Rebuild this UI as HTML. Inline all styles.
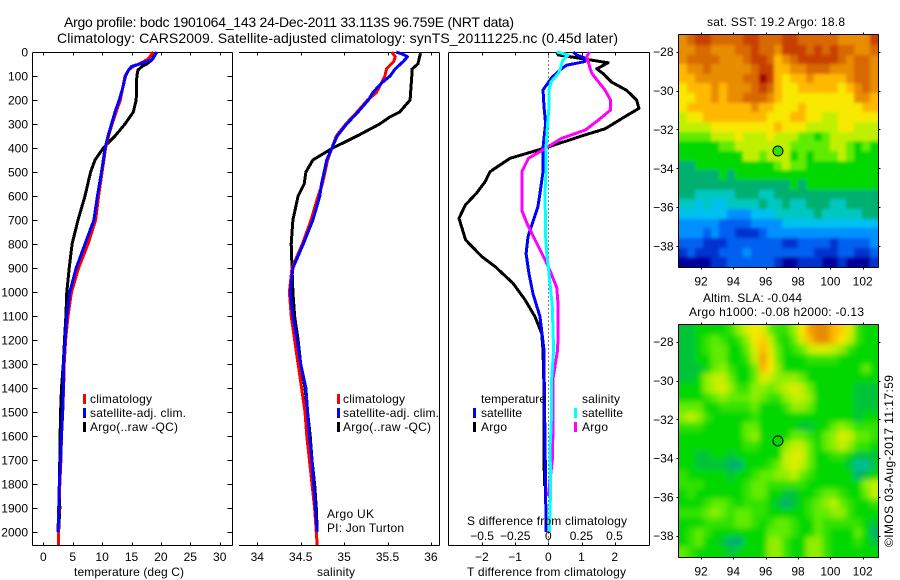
<!DOCTYPE html>
<html lang="en">
<head>
<meta charset="utf-8">
<title>Argo profile chart</title>
<style>
html,body{margin:0;padding:0;background:#fff;}
svg{display:block;}
text{font-family:"Liberation Sans",sans-serif;font-size:12px;fill:#000;}
</style>
</head>
<body>
<svg id="chart" xmlns="http://www.w3.org/2000/svg" width="900" height="580" viewBox="0 0 900 580">
<defs>
<filter id="sst-smooth" x="-10%" y="-10%" width="120%" height="120%"><feGaussianBlur stdDeviation="1.6"/></filter>
<filter id="sla-smooth" x="-10%" y="-10%" width="120%" height="120%"><feGaussianBlur stdDeviation="2.8"/></filter>
<clipPath id="sst-clip"><rect x="679" y="35" width="199" height="232"/></clipPath>
<clipPath id="sla-clip"><rect x="679" y="325" width="199" height="232"/></clipPath>
</defs>
<rect x="0" y="0" width="900" height="580" fill="#fff"/>
<text x="64" y="27" textLength="450" style="font-size:14px">Argo profile: bodc 1901064_143 24-Dec-2011 33.113S 96.759E (NRT data)</text>
<text x="57" y="43" textLength="561" style="font-size:14px">Climatology: CARS2009. Satellite-adjusted climatology: synTS_20111225.nc (0.45d later)</text>
<g id="maps"></g>
<g id="panels"></g>
<text x="74" y="576" textLength="110">temperature (deg C)</text>
<text x="317" y="576" textLength="38">salinity</text>
<text x="467" y="576" textLength="159">T difference from climatology</text>
<text x="467" y="525" textLength="160">S difference from climatology</text>
<text x="90" y="403" textLength="62">climatology</text>
<text x="90" y="417" textLength="96">satellite-adj. clim.</text>
<text x="90" y="431" textLength="88">Argo(..raw -QC)</text>
<text x="343" y="403" textLength="62">climatology</text>
<text x="343" y="417" textLength="96">satellite-adj. clim.</text>
<text x="343" y="431" textLength="88">Argo(..raw -QC)</text>
<text x="327" y="518" textLength="47">Argo UK</text>
<text x="327" y="532" textLength="77">PI: Jon Turton</text>
<text x="481" y="403" textLength="65">temperature</text>
<text x="481" y="417" textLength="41">satellite</text>
<text x="481" y="431" textLength="26">Argo</text>
<text x="582" y="403" textLength="38">salinity</text>
<text x="582" y="417" textLength="41">satellite</text>
<text x="582" y="431" textLength="26">Argo</text>
<text x="707" y="26" textLength="138">sat. SST: 19.2  Argo: 18.8</text>
<text x="703" y="302" textLength="99">Altim. SLA: -0.044</text>
<text x="689" y="316" textLength="175">Argo h1000: -0.08 h2000: -0.13</text>
<text transform="translate(893,547) rotate(-90)" textLength="172">©IMOS 03-Aug-2017 11:17:59</text>
</svg>
<script>
// ---------- profile data (depth in m) ----------
const tempDepth = [0,30,50,60,75,100,150,200,250,300,350,400,450,500,600,700,800,900,1000,1100,1200,1300,1400,1500,1600,1700,1800,1900,2000];
const argoTemp = [18.8,18.6,17.6,16.8,16.1,15.9,15.85,15.8,15.3,13.9,12.2,10.2,8.8,8.05,7.1,5.9,4.9,4.4,4.0,3.85,3.6,3.4,3.1,2.95,2.85,2.8,2.72,2.8,2.6];
const satTemp = [19.3,18.6,16.4,15,14.5,14,13.5,12.9,12.2,11.6,11.0,10.5,10.2,9.9,9.2,8.6,7.1,5.6,4.5,4.0,3.7,3.45,3.4,3.3,3.07,2.95,2.72,2.62,2.5];
const climTempDepth = [0,30,50,60,75,100,150,200,250,300,350,400,450,500,600,700,800,900,1000,1100,1200,1300,1400,1500,1600,1700,1800,1900,2000,2054];
const climTemp = [18.7,17.8,16.3,15.3,14.5,13.9,13.5,13.1,12.4,11.7,11.1,10.6,10.3,10.0,9.4,8.9,7.6,6,4.8,4.2,3.8,3.55,3.45,3.3,3.1,3,2.8,2.65,2.55,2.55];

const argoSalDepth = [5,50,72,100,200,250,270,300,350,400,450,500,550,600,700,800,900,1000,1100,1200,1300,1400,1500,1600,1700,1800,1900,2000];
const argoSal = [35.88,35.85,35.78,35.78,35.76,35.64,35.53,35.41,35.15,34.87,34.64,34.56,34.54,34.47,34.41,34.39,34.4,34.41,34.43,34.47,34.5,34.55,34.58,34.61,34.63,34.66,34.68,34.69];
const satSalDepth = [0,10,20,40,70,100,130,170,200,250,300,350,400,450,500,550,600,700,800,900,1000,1100,1200,1300,1400,1500,1600,1700,1800,1900,2000];
const satSal = [35.6,35.68,35.73,35.68,35.59,35.53,35.43,35.33,35.28,35.16,35.03,34.92,34.86,34.8,34.77,34.74,34.72,34.64,34.53,34.41,34.38,34.41,34.46,34.5,34.56,34.58,34.6,34.63,34.65,34.67,34.69];
const climSalDepth = [0,10,20,40,70,100,130,170,200,250,300,350,400,450,500,550,600,700,800,900,1000,1100,1200,1300,1400,1500,1600,1700,1800,1900,2000,2054];
const climSal = [35.55,35.57,35.59,35.57,35.49,35.47,35.43,35.37,35.27,35.15,35.02,34.91,34.86,34.81,34.78,34.75,34.7,34.62,34.52,34.4,34.37,34.39,34.43,34.47,34.51,34.55,34.57,34.6,34.63,34.66,34.68,34.69];

const argoTDiffDepth = [0,12,25,45,70,90,125,160,200,235,270,320,350,400,443,499,540,588,638,693,783,853,894,964,1033,1103,1172,1242,1400,1808];
const argoTDiff = [0.25,0.3,0.9,1.8,1.46,1.65,1.9,2.36,2.66,2.73,2.3,1.71,1.0,-0.1,-1.15,-1.76,-1.9,-2.16,-2.5,-2.69,-2.49,-2.0,-1.6,-1.06,-0.7,-0.4,-0.2,-0.16,-0.13,-0.12];
const satTDiffDepth = [0,12,25,40,55,75,108,158,228,297,400,499,588,643,693,770,840,924,1007,1103,1242,1400,1808,2000];
const satTDiff = [0.75,0.85,1.1,1.1,0.55,0.35,0.1,-0.16,-0.13,-0.08,-0.16,-0.16,-0.25,-0.31,-0.43,-0.61,-0.67,-0.58,-0.46,-0.25,-0.13,-0.12,-0.08,-0.07];
const satSDiffDepth = [0,12,33,71,90,125,158,228,297,400,499,588,770,840,894,964,1061,1242,1358,1561,1650,1808,2000];
const satSDiff = [0.064,0.15,0.11,0.09,0.075,0.02,0.005,0.005,-0.005,-0.017,-0.017,-0.025,-0.02,-0.012,0,0.013,0.03,0.04,0.026,0.022,0.013,0.018,0.008];
const argoSDiffDepth = [0,20,68,90,125,160,200,242,283,325,360,400,443,499,588,660,715,783,865,920,983,1061,1157,1242,1358,1550,1700,1850];
const argoSDiff = [0.31,0.29,0.316,0.33,0.38,0.43,0.47,0.47,0.38,0.28,0.1,-0.017,-0.15,-0.2,-0.2,-0.2,-0.16,-0.1,-0.025,0.02,0.064,0.075,0.075,0.07,0.036,0.036,0.03,0.0];

// ---------- tick labels ----------
const depthTicks = [0,100,200,300,400,500,600,700,800,900,1000,1100,1200,1300,1400,1500,1600,1700,1800,1900,2000];
const tempTicks = [0,5,10,15,20,25,30];
const salTicks = [34,34.5,35,35.5,36];
const tDiffTicks = [-2,-1,0,1,2];
const sDiffTicks = [-0.5,-0.25,0,0.25,0.5];
const lonTicks = [92,94,96,98,100,102];
const latTicks = [-28,-30,-32,-34,-36,-38];

// ---------- map data: colour-scale levels, north to south, west to east ----------
const sstLevels = [
[12,13,14,14,13,13,13,13,14,14,13,13,13,14,14,13,13,13,13,13,12,12,12,12,14],
[12,12,13,13,12,12,12,13,13,14,13,13,12,14,14,14,13,14,13,14,13,13,12,12,13],
[12,13,13,13,13,12,12,12,13,14,14,13,11,12,13,14,14,14,14,14,13,12,13,13,12],
[11,12,12,13,12,12,12,12,12,13,14,14,11,11,12,12,13,13,13,12,12,12,13,13,12],
[11,11,12,12,12,12,12,12,13,13,15,14,11,10,11,11,12,11,11,11,11,12,13,13,12],
[10,11,11,11,12,11,12,12,12,13,14,13,11,10,10,11,11,11,11,11,10,11,12,13,12],
[10,10,11,11,12,11,12,12,13,13,13,12,11,10,10,10,10,10,10,10,10,10,12,12,11],
[10,11,11,11,11,11,11,11,11,12,11,11,10,10,10,11,10,10,10,10,10,10,10,11,11],
[9,10,10,11,11,11,11,11,11,11,11,10,10,10,11,11,10,10,9,9,10,10,10,10,10],
[9,9,9,9,10,10,10,10,10,10,10,10,11,10,10,10,9,9,9,9,10,10,9,9,9],
[8,8,8,8,9,9,9,10,9,9,9,10,9,9,9,8,8,7,8,9,9,9,9,9,9],
[7,7,7,7,7,8,8,9,9,9,9,9,9,9,8,8,8,8,8,9,9,8,7,8,7],
[7,7,7,7,7,7,7,7,9,9,8,9,9,9,7,8,7,8,8,8,9,8,7,7,7],
[6,6,7,7,7,7,7,7,7,7,7,7,8,9,8,8,7,7,7,7,7,7,7,7,7],
[6,6,6,6,6,7,6,7,7,7,7,7,7,7,7,7,7,7,7,7,7,7,7,7,7],
[6,6,6,6,6,6,6,6,6,6,6,6,6,6,7,6,7,7,7,7,7,7,7,7,7],
[6,6,5,5,5,5,5,6,6,6,5,5,6,6,6,6,6,6,6,6,6,6,6,6,6],
[5,5,4,5,4,4,5,5,5,5,6,5,5,6,5,5,6,6,6,5,5,6,6,6,6],
[4,4,4,4,4,4,3,3,3,4,4,4,5,5,5,5,5,6,5,5,5,5,5,6,6],
[3,3,3,3,3,2,2,2,2,3,3,3,3,4,4,4,4,4,4,4,4,4,4,4,4],
[3,3,3,2,3,2,2,1,1,1,2,3,3,3,3,3,3,3,3,3,3,3,3,3,3],
[2,2,2,1,1,1,2,2,2,2,2,2,2,1,1,2,2,2,2,1,2,2,2,2,3],
[1,2,1,1,1,2,2,2,3,2,2,2,2,2,2,2,2,1,1,1,2,2,1,1,2],
[0,0,0,0,1,1,2,2,2,2,2,2,1,0,0,1,1,1,0,0,1,0,0,0,1]
];
const slaLevels = [
[6.5,6.5,7,7,7,7,7.5,8.5,9.5,10,9.5,8,7.5,7.5,8.5,10,11.5,12,12,11,10.5,9.5,7.5,7,7],
[6.5,6.5,7,7.5,8,7.5,7,7.5,8.5,10,10.5,9,7.5,7,8,9.5,11,12,12,11,10,9,7.5,7,7],
[6.5,6.5,7,7.5,8,8,7,7,8,9.5,11,9.5,8,7,7.5,8,9,9.5,9.5,9,8.5,7.5,7,7,7],
[6.5,6.5,7,7,8,8,7,7,7.5,9,11.5,10,8,7,7,7,7.5,7.5,7.5,7.5,7,7,7,7,7],
[6.5,6.5,6.5,7,8,8.5,7.5,7,7,8,11,10,8.5,7,7,7,7,7,7,7,7,7,7,8,7],
[6.5,6.5,7,8.5,9,9,8,7,7,8,9.5,9,8.5,8.5,8.5,8,7,7,7,7,7,7,7,7,7],
[7,7,7,8.5,9,9.5,8.5,7.5,7.5,8.5,8.5,8,8.5,9,9.5,9,8,7,7,7,7,7,6.5,6.5,6.5],
[7,7,7,7.5,8,8.5,8,8,8,8.5,8,7.5,7.5,8.5,9,9,8.5,7,7,7,7,7,6.5,6.5,6.5],
[8,8,8,7,7,7.5,7.5,7.5,7.5,8,7,7,7,7.5,8.5,8.5,8,7,7,7,7,7,6.5,6.5,6.5],
[8.5,9,8.5,7.5,7,7,7,7,7,7.5,7,7,7,7,7,7,7,7,7,7,7,7,6.5,7,7],
[7.5,7.5,7.5,7,7,7,7,7,8,8,7,7,7,7,7,6.5,6.5,7,7,8,8.5,8,7.5,7.5,7.5],
[7,7,7,7,7,7,7,7,8,8.5,7,7,7,7,8,8,7.5,7,8,8.5,9.5,9,8,8,7.5],
[7,7,7,7,7,7,7,7,7.5,7.5,7,7,7,8.5,9,9,8,7,8,8.5,9,8.5,7.5,7.5,7],
[7,7,6.5,6.5,7,7,6.5,7,7,7,7,7,7,9,9.5,9.5,8,7,7,7.5,7.5,7,6.5,6.5,6.5],
[7,7,6.5,6.5,6.5,6.5,6,6,7,7,7,7.5,8,9,9.5,9,8,7,7,7,7,6.5,5.5,5.5,6.5],
[7.5,7,7,7,7,7,6.5,7,7,7.5,8,8,8.5,8.5,9,8,7.5,7,7,7,7,7,6,6.5,7],
[7.5,7.5,7.5,7,7,7,7,7,7.5,8,8,7.5,7.5,7.5,7.5,7.5,7,7,7,7,7,7,7,8.5,9],
[7,7.5,7,7,7,7,7,7,7.5,8,8,7,7,6.5,6.5,7,7,7.5,8,8,7.5,7,7,8,9],
[7,7,7,7.5,8,8,7.5,7,7.5,7.5,7.5,7,6.5,6,6.5,7,7.5,8,8.5,9,8,7.5,7,7,7.5],
[7.5,7.5,7.5,8,8.5,8,7.5,8,8,7.5,7.5,7,7,7,7,7,7.5,8,8,8.5,8.5,7.5,7,7,7],
[7,7,7,7.5,7.5,7.5,7.5,8,8,7.5,7,7.5,8,8,7.5,7,7,8,7.5,7.5,7.5,7.5,7.5,7,6.5],
[7,7.5,8,7.5,7,7,7,7,7,7,7,8,8,8,7.5,7,7,8,7.5,7,7,7,8,7,6],
[7,7.5,8,7,7,6.5,6,6,7,7,7,8.5,8.5,7.5,7,7,8.5,8.5,7.5,7,7,7,7.5,7,6.5],
[8,7.5,7,7,7,7,6.5,7,7,7,7,8.5,8.5,7.5,7,7,8.5,8.5,7.5,7,7,7,7,7,7]
];
const floatLon = 96.759;
const floatLat = -33.113;
const sstFloatLevel = 7.5;
const slaFloatLevel = 7;
const colourStops = ["#0000a0","#0030d0","#0060f0","#0090ff","#00c0f0","#00c8c0","#00b070","#00d800","#60ec00","#c0f000","#f8e800","#ffb800","#e88c00","#d86800","#c84000","#a00000"];

// ---------- axis functions ----------
const SVGNS = "http://www.w3.org/2000/svg";
const panels = document.getElementById("panels");
const maps = document.getElementById("maps");
const yDepth = d => 52 + d * 0.24;
const xTemp = t => 43.3 + t * 5.88;
const xSal = s => 257.3 + (s - 34) * 86.8;
const xTDiff = t => 548.3 + t * 33.2;
const xSDiff = s => 548.3 + s * 132.4;
const xLon = lon => 701 + (lon - 92) * 16.17;
const yLat1 = lat => 51.7 + (-28 - lat) * 19.43;
const yLat2 = lat => 341.7 + (-28 - lat) * 19.4;

function mk(tag, parent, attrs) {
  const el = document.createElementNS(SVGNS, tag);
  for (const k in attrs) el.setAttribute(k, attrs[k]);
  parent.appendChild(el);
  return el;
}
function seg(parent, name, x1, y1, x2, y2) {
  const el = mk("line", parent, {x1: x1, y1: y1, x2: x2, y2: y2, stroke: "#000", "stroke-width": 1, "shape-rendering": "crispEdges"});
  
  
  return el;
}
function label(parent, name, str, x, y, anchor) {
  const el = mk("text", parent, {x: x, y: y, "text-anchor": anchor});
  el.textContent = str;
  
  
  return el;
}
function fmt(v) { return String(v).replace("-", "\u2212"); }
function profile(name, depths, values, xf, colour) {
  const pts = depths.map((d, i) => xf(values[i]).toFixed(1) + "," + yDepth(d).toFixed(1)).join(" ");
  const el = mk("polyline", panels, {points: pts, fill: "none", stroke: colour, "stroke-width": 3, "stroke-linejoin": "round", "shape-rendering": "crispEdges"});
  
  
}
function legendMark(name, x, y, colour) {
  const el = mk("rect", panels, {x: x, y: y, width: 3, height: 10, fill: colour, "shape-rendering": "crispEdges"});
  
  
}

// ---------- temperature panel ----------
const L1 = 32.5, R1 = 232.5, T = 52.5, B = 545.5;
seg(panels, "temperature-panel-top-axis", L1, T, R1, T);
seg(panels, "temperature-panel-bottom-axis", L1, B, R1, B);
seg(panels, "temperature-panel-left-axis", L1, T, L1, B);
seg(panels, "temperature-panel-right-axis", R1, T, R1, B);
depthTicks.forEach(d => {
  const y = Math.round(yDepth(d)) + 0.5;
  seg(panels, "depth-tick", L1, y, L1 + 5, y);
  seg(panels, "depth-tick-right", R1 - 5, y, R1, y);
  label(panels, "depth-tick-label", d, 28, yDepth(d) + 4.5, "end");
});
tempTicks.forEach(t => {
  const x = Math.round(xTemp(t)) + 0.5;
  seg(panels, "temperature-tick-top", x, T, x, T + 3);
  seg(panels, "temperature-tick-bottom", x, B - 3, x, B);
  label(panels, "temperature-tick-label", t, xTemp(t), 561, "middle");
});
profile("temperature-argo-line", tempDepth, argoTemp, xTemp, "#000");
profile("temperature-climatology-line", climTempDepth, climTemp, xTemp, "#f00");
profile("temperature-satellite-line", tempDepth, satTemp, xTemp, "#00f");
legendMark("legend-temp-climatology-swatch", 83, 394, "#f00");
legendMark("legend-temp-satellite-swatch", 83, 408, "#00f");
legendMark("legend-temp-argo-swatch", 83, 422, "#000");

// ---------- salinity panel ----------
const L2 = 239, R2 = 439.5;
seg(panels, "salinity-panel-top-axis", L2, T, R2, T);
seg(panels, "salinity-panel-bottom-axis", L2, B, R2, B);
seg(panels, "salinity-panel-right-axis", R2, T, R2, B);
salTicks.forEach(s => {
  const x = Math.round(xSal(s)) + 0.5;
  seg(panels, "salinity-tick-top", x, T, x, T + 3);
  seg(panels, "salinity-tick-bottom", x, B - 3, x, B);
  label(panels, "salinity-tick-label", s, xSal(s), 561, "middle");
});
profile("salinity-argo-line", argoSalDepth, argoSal, xSal, "#000");
profile("salinity-climatology-line", climSalDepth, climSal, xSal, "#f00");
profile("salinity-satellite-line", satSalDepth, satSal, xSal, "#00f");
legendMark("legend-sal-climatology-swatch", 337, 394, "#f00");
legendMark("legend-sal-satellite-swatch", 337, 408, "#00f");
legendMark("legend-sal-argo-swatch", 337, 422, "#000");

// ---------- difference panel ----------
const L3 = 448.5, R3 = 649.5;
const zeroLine = mk("line", panels, {x1: 548.5, y1: T, x2: 548.5, y2: B, stroke: "#000", "stroke-width": 1, "stroke-dasharray": "1 3", "shape-rendering": "crispEdges"});


seg(panels, "difference-panel-top-axis", L3, T, R3, T);
seg(panels, "difference-panel-bottom-axis", L3, B, R3, B);
seg(panels, "difference-panel-left-axis", L3, T, L3, B);
seg(panels, "difference-panel-right-axis", R3, T, R3, B);
tDiffTicks.forEach(t => {
  const x = Math.round(xTDiff(t)) + 0.5;
  seg(panels, "t-difference-tick-top", x, T, x, T + 3);
  seg(panels, "t-difference-tick-bottom", x, B - 3, x, B);
  label(panels, "t-difference-tick-label", fmt(t), xTDiff(t), 561, "middle");
});
profile("t-difference-argo-line", argoTDiffDepth, argoTDiff, xTDiff, "#000");
profile("t-difference-satellite-line", satTDiffDepth, satTDiff, xTDiff, "#00f");
profile("s-difference-argo-line", argoSDiffDepth, argoSDiff, xSDiff, "#f0f");
profile("s-difference-satellite-line", satSDiffDepth, satSDiff, xSDiff, "#0ff");
sDiffTicks.forEach(s => {
  label(panels, "s-difference-tick-label", fmt(s), xSDiff(s), 540, "middle");
});
legendMark("legend-diff-t-satellite-swatch", 473, 408, "#00f");
legendMark("legend-diff-t-argo-swatch", 473, 422, "#000");
legendMark("legend-diff-s-satellite-swatch", 574, 408, "#0ff");
legendMark("legend-diff-s-argo-swatch", 574, 422, "#f0f");

// ---------- maps ----------
function levelColour(v) {
  const lo = Math.min(Math.floor(v), colourStops.length - 1);
  const hi = Math.min(lo + 1, colourStops.length - 1);
  const f = v - lo;
  const c = s => [1, 3, 5].map(i => parseInt(s.substr(i, 2), 16));
  const a = c(colourStops[lo]), b = c(colourStops[hi]);
  return "rgb(" + a.map((p, i) => Math.round(p + (b[i] - p) * f)).join(",") + ")";
}
function drawMap(prefix, levels, yLat, floatLevel, clipId, filterId) {
  const lonMin = 90.65, lonMax = 102.93, latMax = -27.15, latMin = -39.08;
  const nr = levels.length, nc = levels[0].length;
  const dLon = (lonMax - lonMin) / nc, dLat = (latMax - latMin) / nr;
  const clipGroup = mk("g", maps, {"clip-path": "url(#" + clipId + ")"});
  
  
  const cells = mk("g", clipGroup, {filter: "url(#" + filterId + ")"});
  const bleed = 10;
  levels.forEach((row, r) => {
    row.forEach((v, c) => {
      let x0 = Math.round(xLon(lonMin + c * dLon)), x1 = Math.round(xLon(lonMin + (c + 1) * dLon));
      let y0 = Math.round(yLat(latMax - r * dLat)), y1 = Math.round(yLat(latMax - (r + 1) * dLat));
      if (c === 0) x0 -= bleed;
      if (c === nc - 1) x1 += bleed;
      if (r === 0) y0 -= bleed;
      if (r === nr - 1) y1 += bleed;
      const cell = mk("rect", cells, {x: x0, y: y0, width: x1 - x0, height: y1 - y0, fill: levelColour(v), "shape-rendering": "crispEdges"});
      
      
    });
  });
  const left = Math.round(xLon(lonMin)) - 0.5, right = Math.round(xLon(lonMax)) + 0.5;
  const top = Math.round(yLat(latMax)) - 0.5, bottom = Math.round(yLat(latMin)) + 0.5;
  seg(maps, prefix + "-frame-top", left, top, right, top);
  seg(maps, prefix + "-frame-bottom", left, bottom, right, bottom);
  seg(maps, prefix + "-frame-left", left, top, left, bottom);
  seg(maps, prefix + "-frame-right", right, top, right, bottom);
  lonTicks.forEach(lon => {
    const x = Math.round(xLon(lon)) + 0.5;
    seg(maps, prefix + "-lon-tick-top", x, top - 2, x, top);
    seg(maps, prefix + "-lon-tick-bottom", x, bottom, x, bottom + 2);
    label(maps, prefix + "-lon-tick-label", lon, xLon(lon), bottom + 18, "middle");
  });
  latTicks.forEach(lat => {
    const y = Math.round(yLat(lat)) + 0.5;
    seg(maps, prefix + "-lat-tick-left", left - 2, y, left, y);
    seg(maps, prefix + "-lat-tick-right", right, y, right + 2, y);
    label(maps, prefix + "-lat-tick-label", fmt(lat), left - 5, yLat(lat) + 4.5, "end");
  });
  const marker = mk("circle", maps, {cx: xLon(floatLon), cy: yLat(floatLat), r: 5, fill: levelColour(floatLevel), stroke: "#000", "stroke-width": 1});
  
  
}
drawMap("sst-map", sstLevels, yLat1, sstFloatLevel, "sst-clip", "sst-smooth");
drawMap("sla-map", slaLevels, yLat2, slaFloatLevel, "sla-clip", "sla-smooth");
</script>
</body>
</html>
